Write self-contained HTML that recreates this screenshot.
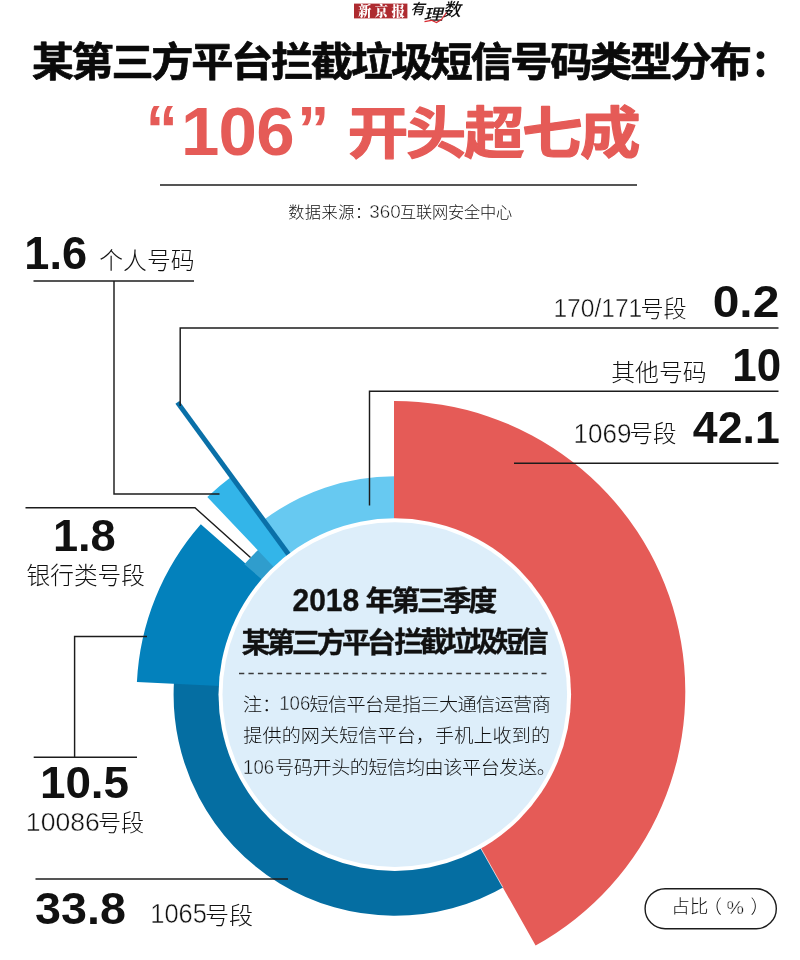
<!DOCTYPE html>
<html lang="zh-CN"><head><meta charset="utf-8"><title>某第三方平台拦截垃圾短信号码类型分布</title>
<style>
html,body{margin:0;padding:0;background:#fff}
body{width:800px;height:960px;overflow:hidden}
svg{display:block}
.hei{font-family:"Liberation Sans","Noto Sans CJK SC",sans-serif;font-weight:900;fill:#111}
.lt{font-family:"Liberation Sans","Noto Sans CJK SC",sans-serif;font-weight:300;fill:#222}
.num{font-family:"Liberation Sans",sans-serif;font-weight:700;fill:#111}
</style></head><body>
<svg width="800" height="960" viewBox="0 0 800 960">
<rect width="800" height="960" fill="#fff"/>
<!-- logo -->
<g id="logo">
<rect x="354" y="3.6" width="53.4" height="14.8" fill="#AE2B30"/>
<text x="358.2" y="16" font-family="'Liberation Serif','Noto Serif CJK SC',serif" font-weight="900" font-size="13.2" letter-spacing="3.5" fill="#fff">新京报</text>
<g font-family="'Liberation Sans','Noto Sans CJK SC',sans-serif" font-weight="500" fill="#111">
<text transform="translate(410.3,14.2) skewX(-14)" font-size="14.5">有</text>
<text transform="translate(423.6,19.6) skewX(-14) scale(1.25,1)" font-size="15.5">理</text>
<text transform="translate(442.8,16.2) skewX(-14)" font-size="18">数</text>
</g>
<polyline points="424.5,21.6 431.5,20.3 436.5,22.6 441.5,19.6 446.5,12.5" fill="none" stroke="#D8282F" stroke-width="1.2"/>
</g>
<!-- title -->
<text class="hei" x="751.3" y="77.3" font-size="37">：</text>
<text class="hei" x="145.8" y="151" font-size="64" style="fill:#E55B57">“</text>
<text class="num" x="181" y="155" font-size="69" style="fill:#E55B57" textLength="113.5" lengthAdjust="spacing">106</text>
<text class="hei" x="297.2" y="151.5" font-size="64" style="fill:#E55B57">”</text>
<line x1="160" y1="184.9" x2="637" y2="184.9" stroke="#1c1c1c" stroke-width="1.5"/>
<!-- chart -->
<g id="chart">
<path d="M507.07 885.19A221.2 221.2 0 0 1 173.94 682.25L225.07 685.11A170 170 0 0 0 481.08 841.08Z" fill="#056EA2"/>
<path d="M136.91 681.99A258.2 258.2 0 0 1 200.82 524.19L267.09 582.40A170 170 0 0 0 225.00 686.30Z" fill="#0381BC"/>
<path d="M244.39 564.31A199 199 0 0 1 258.83 549.30L278.64 570.47A170 170 0 0 0 266.30 583.29Z" fill="#2F9DCD"/>
<path d="M207.29 497.01A272.4 272.4 0 0 1 231.63 476.48L292.97 558.48A170 170 0 0 0 277.78 571.29Z" fill="#33B5E9"/>
<path d="M261.85 521.33A218.4 218.4 0 0 1 395.56 476.20L395.39 524.60A170 170 0 0 0 291.31 559.73Z" fill="#67C9F1"/>
<path d="M394 694.6V401A290.5 290.5 0 0 1 535.6 945.6L394.2 694.6Z" fill="#E55B57"/>
<line x1="394.2" y1="694.6" x2="502.8" y2="887.3" stroke="#fff" stroke-width="0.7"/>
<line x1="292.1" y1="559.3" x2="177.4" y2="402.4" stroke="#0A70A8" stroke-width="4.9"/>
<circle cx="394.8" cy="694.6" r="176.3" fill="#fff"/>
<circle cx="394.8" cy="694.6" r="172.3" fill="#DDEEFA"/>
</g>
<!-- leader lines -->
<g stroke="#1c1c1c" stroke-width="1.45" fill="none">
<path d="M33.5 281H194"/>
<path d="M114 281V494H219.5"/>
<path d="M778.5 328H180.2V406"/>
<path d="M778.5 391.3H369.5V505.5"/>
<path d="M514 463.3H778.5"/>
<path d="M25.5 507.8H195L250.5 557.5"/>
<path d="M147 636.5H74.6V757.2"/>
<path d="M33.7 757.2H137"/>
<path d="M35.5 879H288"/>
</g>
<!-- text -->
<text transform="translate(31.73,76.28) scale(1.05,1)" font-size="40.20" letter-spacing="-2.207" fill="#0a0a0a" style="font-family:'Liberation Sans','Noto Sans CJK SC',sans-serif;font-weight:700" stroke="#0a0a0a" stroke-width="0.7" stroke-linejoin="round">某第三方平台拦截垃圾短信号码类型分布</text>
<text transform="translate(347.78,152.79) scale(1.09,1)" font-size="55.50" letter-spacing="-2.210" fill="#E55B57" style="font-family:'Liberation Sans','Noto Sans CJK SC',sans-serif;font-weight:700" stroke="#E55B57" stroke-width="1.2" stroke-linejoin="round">开头超七成</text>
<text transform="translate(24.29,268.54) scale(0.9826,1)" font-size="45.92" fill="#111" style="font-family:'Liberation Sans',sans-serif;font-weight:700">1.6</text>
<text transform="translate(712.68,316.86) scale(1.0909,1)" font-size="43.94" fill="#111" style="font-family:'Liberation Sans',sans-serif;font-weight:700">0.2</text>
<text transform="translate(732.37,380.94) scale(0.9593,1)" font-size="45.77" fill="#111" style="font-family:'Liberation Sans',sans-serif;font-weight:700">10</text>
<text transform="translate(692.86,442.75) scale(1.0003,1)" font-size="44.64" fill="#111" style="font-family:'Liberation Sans',sans-serif;font-weight:700">42.1</text>
<text transform="translate(52.89,550.55) scale(1.0036,1)" font-size="45.07" fill="#111" style="font-family:'Liberation Sans',sans-serif;font-weight:700">1.8</text>
<text transform="translate(39.90,798.35) scale(1.0169,1)" font-size="45.07" fill="#111" style="font-family:'Liberation Sans',sans-serif;font-weight:700">10.5</text>
<text transform="translate(35.07,923.55) scale(1.0326,1)" font-size="45.21" fill="#111" style="font-family:'Liberation Sans',sans-serif;font-weight:700">33.8</text>
<text x="99.31" y="269.18" font-size="23.84" letter-spacing="0.000" fill="#111" style="font-family:'Liberation Sans','Noto Sans CJK SC',sans-serif;font-weight:300">个人号码</text>
<text transform="translate(553.43,316.84) scale(0.9480,1)" font-size="25.95" fill="#111" style="font-family:'Liberation Sans','Noto Sans CJK SC',sans-serif;font-weight:400" stroke="#fff" stroke-width="0.45">170/171</text>
<text x="640.38" y="317.29" font-size="23.14" letter-spacing="0.000" fill="#111" style="font-family:'Liberation Sans','Noto Sans CJK SC',sans-serif;font-weight:300">号段</text>
<text x="611.31" y="381.03" font-size="23.84" letter-spacing="0.000" fill="#111" style="font-family:'Liberation Sans','Noto Sans CJK SC',sans-serif;font-weight:300">其他号码</text>
<text transform="translate(573.51,442.73) scale(0.9550,1)" font-size="27.32" fill="#111" style="font-family:'Liberation Sans','Noto Sans CJK SC',sans-serif;font-weight:400" stroke="#fff" stroke-width="0.45">1069</text>
<text x="629.55" y="441.98" font-size="23.51" letter-spacing="0.000" fill="#111" style="font-family:'Liberation Sans','Noto Sans CJK SC',sans-serif;font-weight:300">号段</text>
<text x="26.55" y="584.05" font-size="23.68" letter-spacing="0.000" fill="#111" style="font-family:'Liberation Sans','Noto Sans CJK SC',sans-serif;font-weight:300">银行类号段</text>
<text transform="translate(25.87,830.99) scale(1.0348,1)" font-size="25.70" fill="#111" style="font-family:'Liberation Sans','Noto Sans CJK SC',sans-serif;font-weight:400" stroke="#fff" stroke-width="0.45">10086</text>
<text x="97.88" y="831.29" font-size="23.14" letter-spacing="0.000" fill="#111" style="font-family:'Liberation Sans','Noto Sans CJK SC',sans-serif;font-weight:300">号段</text>
<text transform="translate(150.26,923.23) scale(0.9520,1)" font-size="26.76" fill="#111" style="font-family:'Liberation Sans','Noto Sans CJK SC',sans-serif;font-weight:400" stroke="#fff" stroke-width="0.45">1065</text>
<text x="204.91" y="923.51" font-size="24.10" letter-spacing="0.000" fill="#111" style="font-family:'Liberation Sans','Noto Sans CJK SC',sans-serif;font-weight:300">号段</text>
<text x="288.19" y="217.91" font-size="16.20" letter-spacing="0.497" fill="#111" style="font-family:'Liberation Sans','Noto Sans CJK SC',sans-serif;font-weight:300">数据来源：</text>
<text transform="translate(369.25,218.31) scale(0.9923,1)" font-size="19.01" fill="#111" style="font-family:'Liberation Sans','Noto Sans CJK SC',sans-serif;font-weight:400" stroke="#fff" stroke-width="0.45">360</text>
<text x="400.03" y="217.99" font-size="16.20" letter-spacing="-0.197" fill="#111" style="font-family:'Liberation Sans','Noto Sans CJK SC',sans-serif;font-weight:300">互联网安全中心</text>
<text transform="translate(292.50,610.79) scale(0.9816,1)" font-size="30.56" fill="#111" style="font-family:'Liberation Sans','Noto Sans CJK SC',sans-serif;font-weight:700" stroke="#111" stroke-width="0.35" stroke-linejoin="round">2018</text>
<text transform="translate(365.55,611.28) scale(1.03,1)" font-size="28.00" letter-spacing="-2.981" fill="#111" style="font-family:'Liberation Sans','Noto Sans CJK SC',sans-serif;font-weight:700" stroke="#111" stroke-width="0.35" stroke-linejoin="round">年第三季度</text>
<text transform="translate(241.53,652.63) scale(1.03,1)" font-size="28.00" letter-spacing="-3.620" fill="#111" style="font-family:'Liberation Sans','Noto Sans CJK SC',sans-serif;font-weight:700" stroke="#111" stroke-width="0.35" stroke-linejoin="round">某第三方平台</text>
<text transform="translate(394.32,652.49) scale(1.03,1)" font-size="28.00" letter-spacing="-3.614" fill="#111" style="font-family:'Liberation Sans','Noto Sans CJK SC',sans-serif;font-weight:700" stroke="#111" stroke-width="0.35" stroke-linejoin="round">拦截垃圾短信</text>
<text transform="translate(242.94,710.78) scale(1.04,1)" font-size="18.40" letter-spacing="0.000" fill="#111" style="font-family:'Liberation Sans','Noto Sans CJK SC',sans-serif;font-weight:300">注：</text>
<text transform="translate(279.21,710.31) scale(0.9588,1)" font-size="19.44" fill="#111" style="font-family:'Liberation Sans','Noto Sans CJK SC',sans-serif;font-weight:400" stroke="#DDEEFA" stroke-width="0.45">106</text>
<text transform="translate(309.44,710.59) scale(1.04,1)" font-size="18.40" letter-spacing="-0.590" fill="#111" style="font-family:'Liberation Sans','Noto Sans CJK SC',sans-serif;font-weight:300">短信平台是指三大通信运营商</text>
<text transform="translate(243.33,741.85) scale(1.04,1)" font-size="18.40" letter-spacing="0.040" fill="#111" style="font-family:'Liberation Sans','Noto Sans CJK SC',sans-serif;font-weight:300">提供的网关短信平台，手机上收到的</text>
<text transform="translate(243.11,773.91) scale(0.9555,1)" font-size="19.44" fill="#111" style="font-family:'Liberation Sans','Noto Sans CJK SC',sans-serif;font-weight:400" stroke="#DDEEFA" stroke-width="0.45">106</text>
<text transform="translate(275.06,774.34) scale(1.04,1)" font-size="18.40" letter-spacing="-0.424" fill="#111" style="font-family:'Liberation Sans','Noto Sans CJK SC',sans-serif;font-weight:300">号码开头的短信均由该平台发送。</text>
<line x1="239" y1="673.5" x2="546.4" y2="673.5" stroke="#3a3a3a" stroke-width="1.4" stroke-dasharray="5.3 4.15"/>
<!-- legend pill -->
<rect x="645.1" y="888.7" width="131.2" height="40" rx="20" fill="#fff" stroke="#1c1c1c" stroke-width="1.4"/>
<text class="lt" y="913" font-size="18.6" style="fill:#111"><tspan x="671.2">占比</tspan><tspan x="703.3">（</tspan><tspan x="750.4">）</tspan></text>
<text x="726.6" y="914" font-size="19" fill="#111" style="font-family:'Liberation Sans',sans-serif" stroke="#fff" stroke-width="0.4" textLength="17.5" lengthAdjust="spacingAndGlyphs">%</text>
</svg>
</body></html>
